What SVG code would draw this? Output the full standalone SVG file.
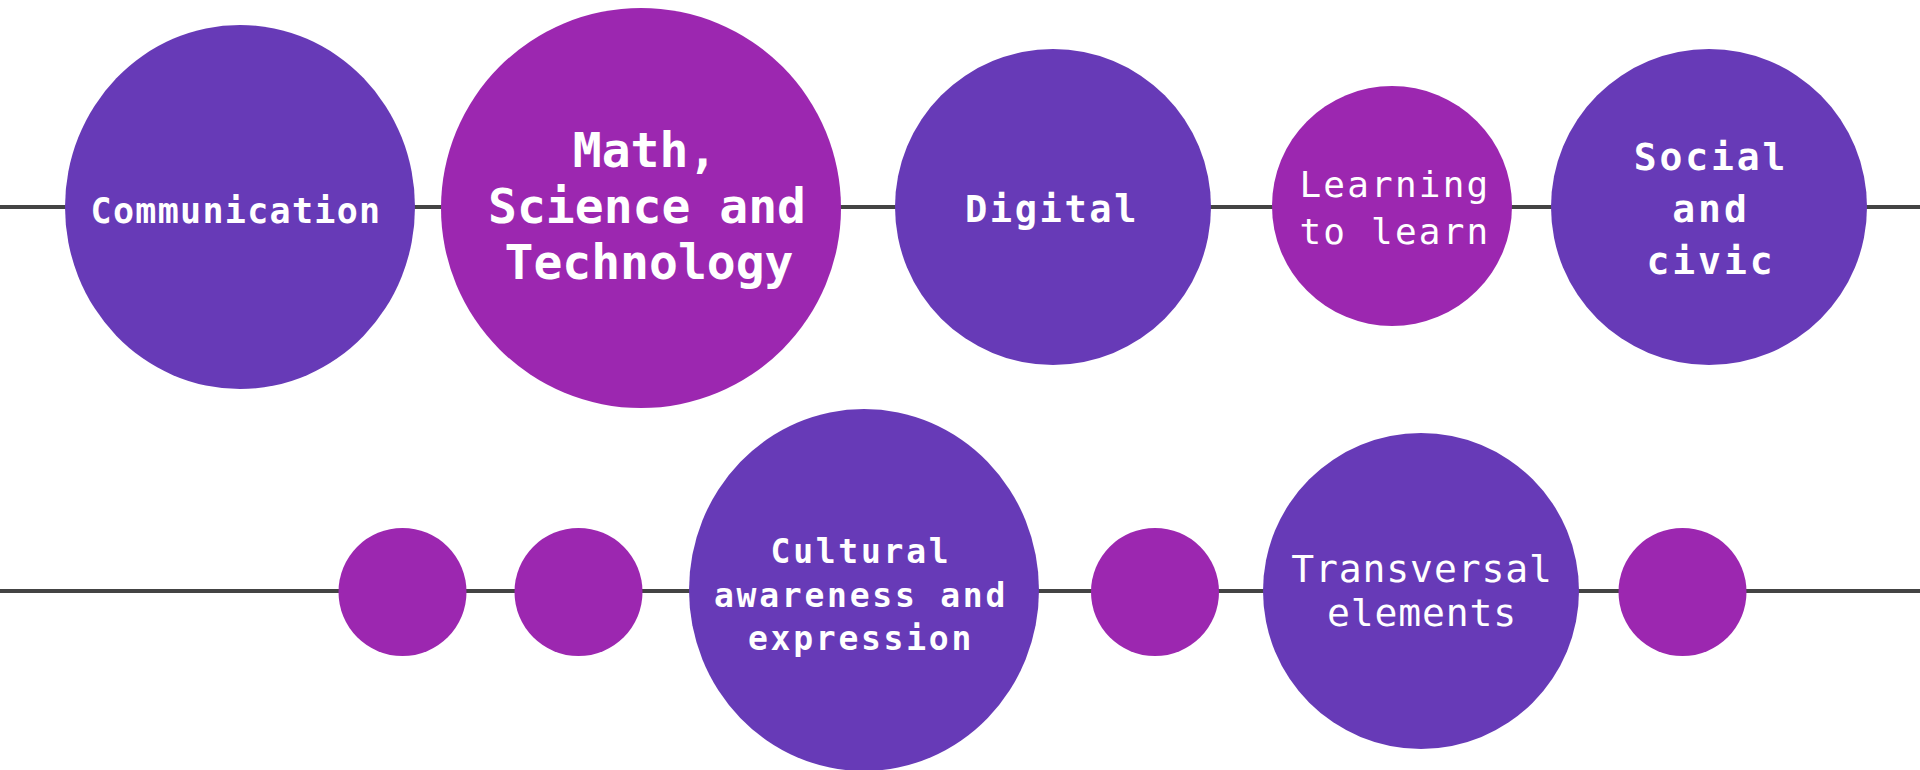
<svg xmlns="http://www.w3.org/2000/svg" width="1920" height="770" viewBox="0 0 1920 770">
<style>
.bg{fill:#ffffff}
.line{stroke:#444444;stroke-width:4;fill:none}
.blue{fill:#673AB7}
.mag{fill:#9C27B0}
text{font-family:"DejaVu Sans Mono","Liberation Mono",monospace;fill:#ffffff;text-anchor:middle}
.b{font-weight:bold}
</style>
<rect class="bg" x="0" y="0" width="1920" height="770"/>
<g id="connectors">
<line class="line" x1="0" y1="207" x2="1920" y2="207"/>
<line class="line" x1="0" y1="591" x2="1920" y2="591"/>
</g>
<g id="communication">
<ellipse class="blue" cx="240" cy="207" rx="175" ry="182"/>
<text class="b" x="236" y="223" font-size="35" letter-spacing="1.3">Communication</text>
</g>
<g id="math">
<circle class="mag" cx="641" cy="208" r="200"/>
<text class="b" font-size="48"><tspan x="645" y="167">Math,</tspan><tspan x="647" y="223">Science and</tspan><tspan x="649" y="279">Technology</tspan></text>
</g>
<g id="digital">
<circle class="blue" cx="1053" cy="207" r="158"/>
<text class="b" x="1052" y="222" font-size="37" letter-spacing="2.6">Digital</text>
</g>
<g id="learning">
<circle class="mag" cx="1392" cy="206" r="120"/>
<text font-size="36" letter-spacing="2.2"><tspan x="1395" y="197">Learning</tspan><tspan x="1395" y="244">to learn</tspan></text>
</g>
<g id="social">
<circle class="blue" cx="1709" cy="207" r="158"/>
<text class="b" font-size="38" letter-spacing="2.9"><tspan x="1711" y="170">Social</tspan><tspan x="1711" y="222">and</tspan><tspan x="1711" y="274">civic</tspan></text>
</g>
<g id="dot1"><circle class="mag" cx="402.5" cy="592" r="64"/></g>
<g id="dot2"><circle class="mag" cx="578.5" cy="592" r="64"/></g>
<g id="cultural">
<ellipse class="blue" cx="864" cy="590" rx="175" ry="181"/>
<text class="b" font-size="33" letter-spacing="2.75"><tspan x="861" y="563">Cultural</tspan><tspan x="861" y="607">awareness and</tspan><tspan x="861" y="650">expression</tspan></text>
</g>
<g id="dot3"><circle class="mag" cx="1155" cy="592" r="64"/></g>
<g id="transversal">
<circle class="blue" cx="1421" cy="591" r="158"/>
<text font-size="38" letter-spacing="0.9"><tspan x="1422" y="582">Transversal</tspan><tspan x="1422" y="626">elements</tspan></text>
</g>
<g id="dot4"><circle class="mag" cx="1682.5" cy="592" r="64"/></g>
</svg>
